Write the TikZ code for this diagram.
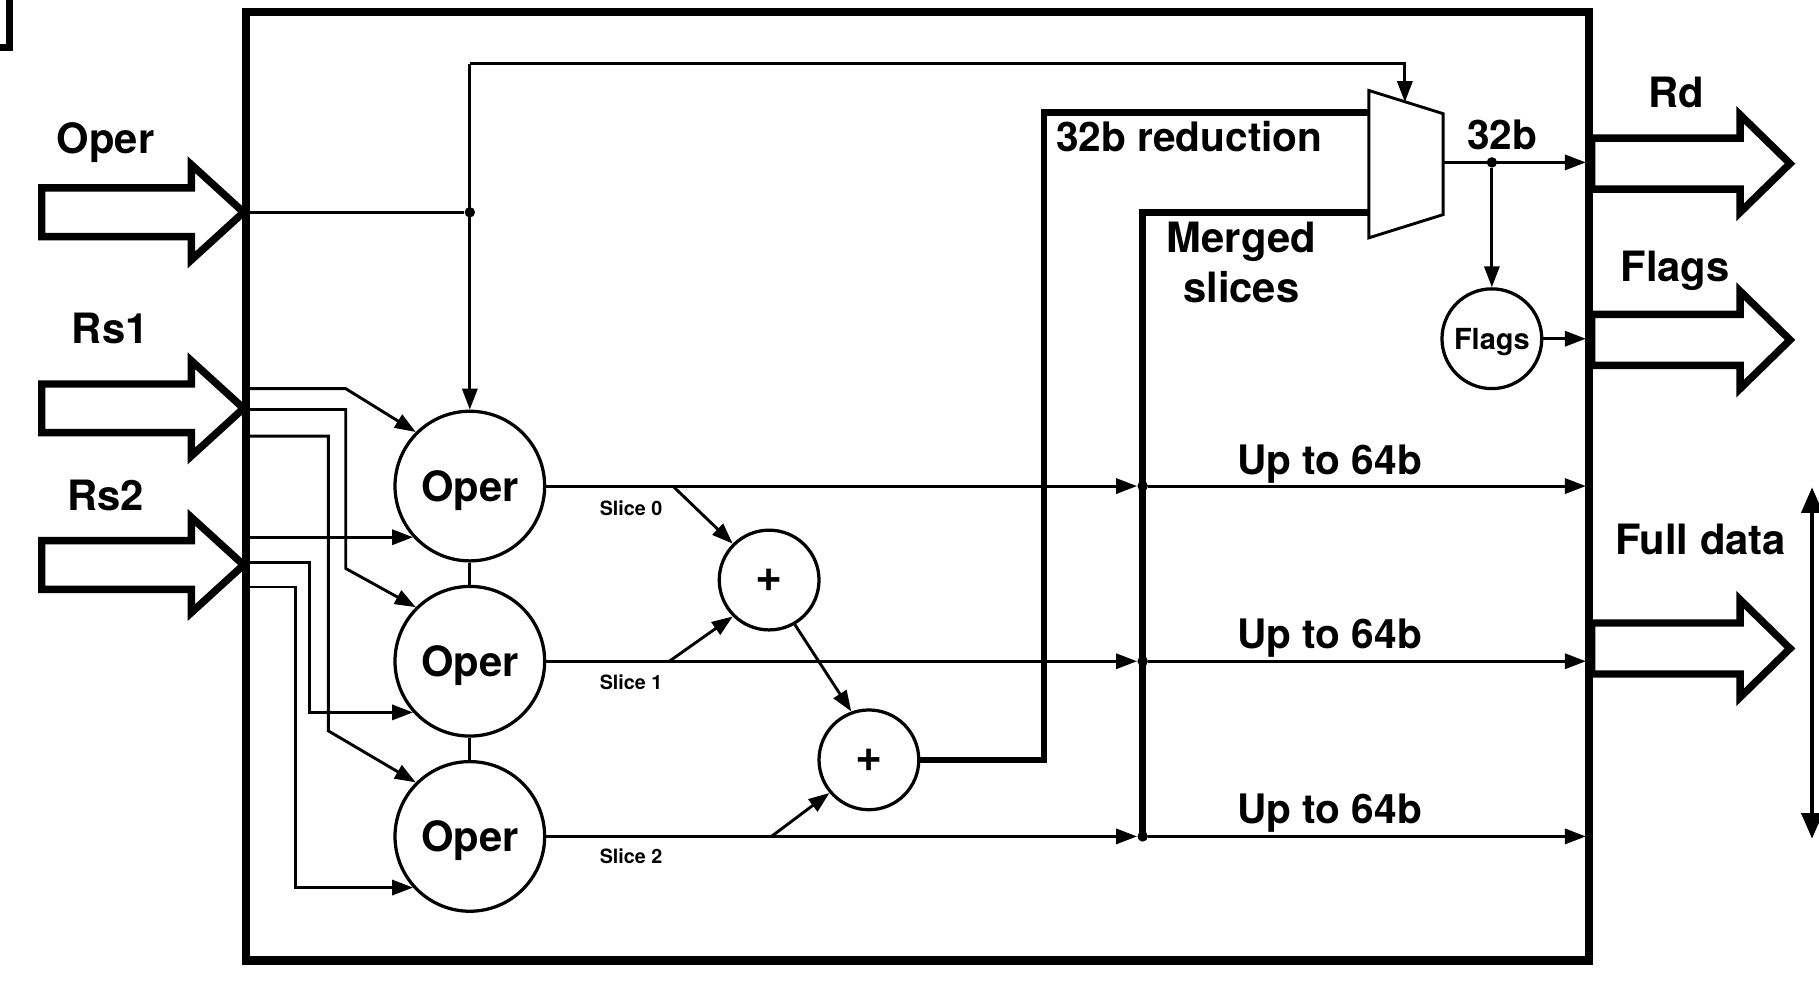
\documentclass[tikz,border=0pt]{standalone}
\usepackage{fontspec}
\setmainfont{TeX Gyre Heros}
\usetikzlibrary{arrows.meta,calc}
\begin{document}
\begin{tikzpicture}[x=0.5pt,y=-0.5pt,
  ln/.style={line width=1.25pt},
  arw/.style={ln,-{Triangle[length=9pt,width=6.5pt]}},
  busline/.style={line width=2.8pt},
  frame/.style={line width=3.5pt},
  blk/.style={line width=3.2pt,line join=miter},
  bigcirc/.style={circle,draw,line width=1.4pt,minimum size=64.5pt,inner sep=0pt,text depth=0pt,font=\fontsize{18}{20}\selectfont\bfseries},
  addcirc/.style={circle,draw,line width=1.4pt,minimum size=43pt,inner sep=0pt,font=\fontsize{20}{20}\selectfont\bfseries},
  flagcirc/.style={circle,draw,line width=1.4pt,minimum size=43pt,inner sep=0pt,text depth=0pt,font=\fontsize{12.5}{13}\selectfont\bfseries},
  lab/.style={inner sep=0pt,anchor=base,font=\fontsize{18}{21}\selectfont\bfseries},
  midlab/.style={inner sep=0pt,anchor=base,font=\fontsize{17.5}{20}\selectfont\bfseries},
  smalllab/.style={inner sep=0pt,font=\fontsize{8.5}{9}\selectfont\bfseries},
  dotnode/.style={circle,fill,inner sep=0pt,minimum size=4.5pt},
  inarrow/.pic={\draw[blk] (-174,-21) -- (-45,-21) -- (-45,-41) -- (0,0) -- (-45,41) -- (-45,21) -- (-174,21) -- cycle;},
  outarrow/.pic={\draw[blk] (-171,-22) -- (-43,-22) -- (-43,-42) -- (0,0) -- (-43,42) -- (-43,22) -- (-171,22) -- cycle;}
]
\useasboundingbox (0,0) rectangle (1568,845);

% fragment of neighbouring figure
\draw[line width=3pt] (0,41) -- (8,41) -- (8,0);

% main frame
\draw[frame] (212,10) rectangle (1370,828);

% input block arrows
\coordinate (operin) at (210,183);
\coordinate (rsonein) at (210,352);
\coordinate (rstwoin) at (210,487);
\pic at (operin) {inarrow};
\pic at (rsonein) {inarrow};
\pic at (rstwoin) {inarrow};
\node[lab] (lOper) at (91,132) {Oper};
\node[lab] (lRsone) at (95,296) {Rs1};
\node[lab] (lRstwo) at (91,440) {Rs2};

% operator circles
\node[bigcirc] (op0) at (405,419) {Oper};
\node[bigcirc] (op1) at (405,570) {Oper};
\node[bigcirc] (op2) at (405,721) {Oper};
\draw[ln] (op0) -- (op1);
\draw[ln] (op1) -- (op2);

% Oper control line
\node[dotnode] (jop) at (405,183) {};
\coordinate (ctop) at (405,55);
\coordinate (ctr) at (1211,55);
\coordinate (msel) at (1211,88);
\draw[ln] (operin) -- (jop);
\draw[arw] (ctop) -- (op0);
\draw[arw] (ctop) -- (ctr) -- (msel);

% Rs1 lines
\coordinate (bl) at (214,0);
\draw[arw] (214,335) -- (298,335) -- (op0.135);
\draw[arw] (214,353) -- (298,353) -- (298,490) -- (op1.135);
\draw[arw] (214,376) -- (283,376) -- (283,630) -- (op2.135);

% Rs2 lines
\draw[arw] (bl |- op0.222) -- (op0.222);
\draw[arw] (214,485) -- (267,485) |- (op1.222);
\draw[arw] (214,506) -- (255,506) |- (op2.222);

% slice outputs
\node[dotnode] (d0) at (985,419) {};
\node[dotnode] (d1) at (985,570) {};
\node[dotnode] (d2) at (985,721) {};
\coordinate (e0) at (1367,419);
\coordinate (e1) at (1367,570);
\coordinate (e2) at (1367,721);
\draw[arw] (op0.east) -- (d0);
\draw[arw] (op1.east) -- (d1);
\draw[arw] (op2.east) -- (d2);
\draw[arw] (d0) -- (e0);
\draw[arw] (d1) -- (e1);
\draw[arw] (d2) -- (e2);
\node[smalllab] (ls0) at (544,438) {Slice 0};
\node[smalllab] (ls1) at (544,588) {Slice 1};
\node[smalllab] (ls2) at (544,738) {Slice 2};
\node[midlab] (u0) at (1146,409) {Up to 64b};
\node[midlab] (u1) at (1146,559) {Up to 64b};
\node[midlab] (u2) at (1146,710) {Up to 64b};

% adders
\node[addcirc] (a0) at (663,500) {+};
\node[addcirc] (a1) at (749,655) {+};
\coordinate (t0) at (580,419);
\coordinate (t1) at (577,570);
\coordinate (t2) at (665,721);
\draw[arw] (t0) -- (a0.135);
\draw[arw] (t1) -- (a0.225);
\draw[arw] (a0.-60) -- (a1.110);
\draw[arw] (t2) -- (a1.220);

% buses
\coordinate (min1) at (1180,97);
\coordinate (min2) at (1180,183);
\coordinate (mout) at (1244,140);
\coordinate (rc) at (900,97);
\draw[busline] (a1.east) -| (rc) -- (min1);
\draw[busline] (d2.center) |- (min2);
\node[midlab,anchor=base west] (lred) at (910,131) {32b reduction};
\node[lab] (lmerged) at (1070,218) {Merged};
\node[lab] (lslices) at (1070,261) {slices};

% mux
\draw[ln,fill=white] (1180,78) -- (1244,98) -- (1244,185) -- (1180,205) -- cycle;

% mux output and flags
\node[dotnode] (jm) at (1286,140) {};
\coordinate (erd) at (1367,140);
\draw[arw] (mout) -- (erd);
\node[midlab] (l32) at (1295,129) {32b};
\node[flagcirc] (fl) at (1286,292) {Flags};
\draw[arw] (jm) -- (fl);
\coordinate (efl) at (1367,292);
\draw[arw] (fl) -- (efl);

% output block arrows
\pic at (1543,141) {outarrow};
\pic at (1543,293) {outarrow};
\pic at (1543,559) {outarrow};
\node[lab] (lRd) at (1445,93) {Rd};
\node[lab] (lFlags) at (1444,243) {Flags};
\node[lab] (lFull) at (1466,478) {Full data};

% full data extent
\coordinate (fa) at (1562,420);
\coordinate (fb) at (1562,723);
\draw[line width=1.8pt,{Triangle[length=11pt,width=9pt]}-{Triangle[length=11pt,width=9pt]}] (fa) -- (fb);
\end{tikzpicture}
\end{document}
